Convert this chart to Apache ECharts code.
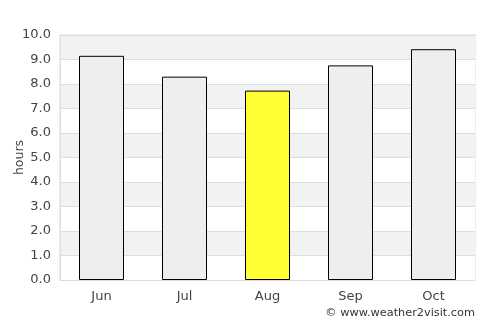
<!DOCTYPE html>
<html><head><meta charset="utf-8">
<script src="https://cdn.jsdelivr.net/npm/echarts@6/dist/echarts.min.js"></script>
<style>html,body{margin:0;padding:0;background:#fff}#c{width:500px;height:325px}</style>
</head><body><div id="c"></div>
<script>
const categories = ['Jun','Jul','Aug','Sep','Oct'];
const hours = [9.15, 8.3, 7.73, 8.76, 9.42];
const highlight = 'Aug';
const yTicks = [0,1,2,3,4,5,6,7,8,9,10];

const chart = echarts.init(document.getElementById('c'), null, {renderer:'canvas'});
chart.setOption({
  animation:false,
  backgroundColor:'#fff',
  grid:{left:60,right:25,top:35,bottom:45,containLabel:false,outerBoundsMode:'none',show:true,borderColor:'#dddddd',borderWidth:1,backgroundColor:'transparent'},
  xAxis:{type:'category',data:categories,
    axisLine:{show:true,lineStyle:{color:'#dddddd'}},
    axisTick:{show:false},
    axisLabel:{color:'#444',fontFamily:'DejaVu Sans',fontSize:13,margin:10}},
  yAxis:{type:'value',min:0,max:10,interval:1,name:'hours',nameLocation:'middle',nameGap:34,nameMoveOverlap:false,
    nameTextStyle:{color:'#444',fontFamily:'DejaVu Sans',fontSize:12.5},
    axisLine:{show:true,lineStyle:{color:'#dddddd'}},
    axisTick:{show:false},
    axisLabel:{color:'#444',fontFamily:'DejaVu Sans',fontSize:13,margin:9,formatter:v=>v.toFixed(1)},
    splitLine:{show:true,lineStyle:{color:'#dddddd'}},
    splitArea:{show:true,areaStyle:{color:['#ffffff','#f2f2f2']}}},
  series:[{type:'bar',barWidth:45,
    data:hours.map((v,i)=>({value:v,itemStyle:{color:categories[i]===highlight?'#ffff33':'#eeeeee'}})),
    itemStyle:{borderColor:'#000',borderWidth:1}}],
  graphic:[{type:'text',right:25,top:308,style:{text:'© www.weather2visit.com',fill:'#333',font:'11.3px "DejaVu Sans"'}}]
});
</script></body></html>
